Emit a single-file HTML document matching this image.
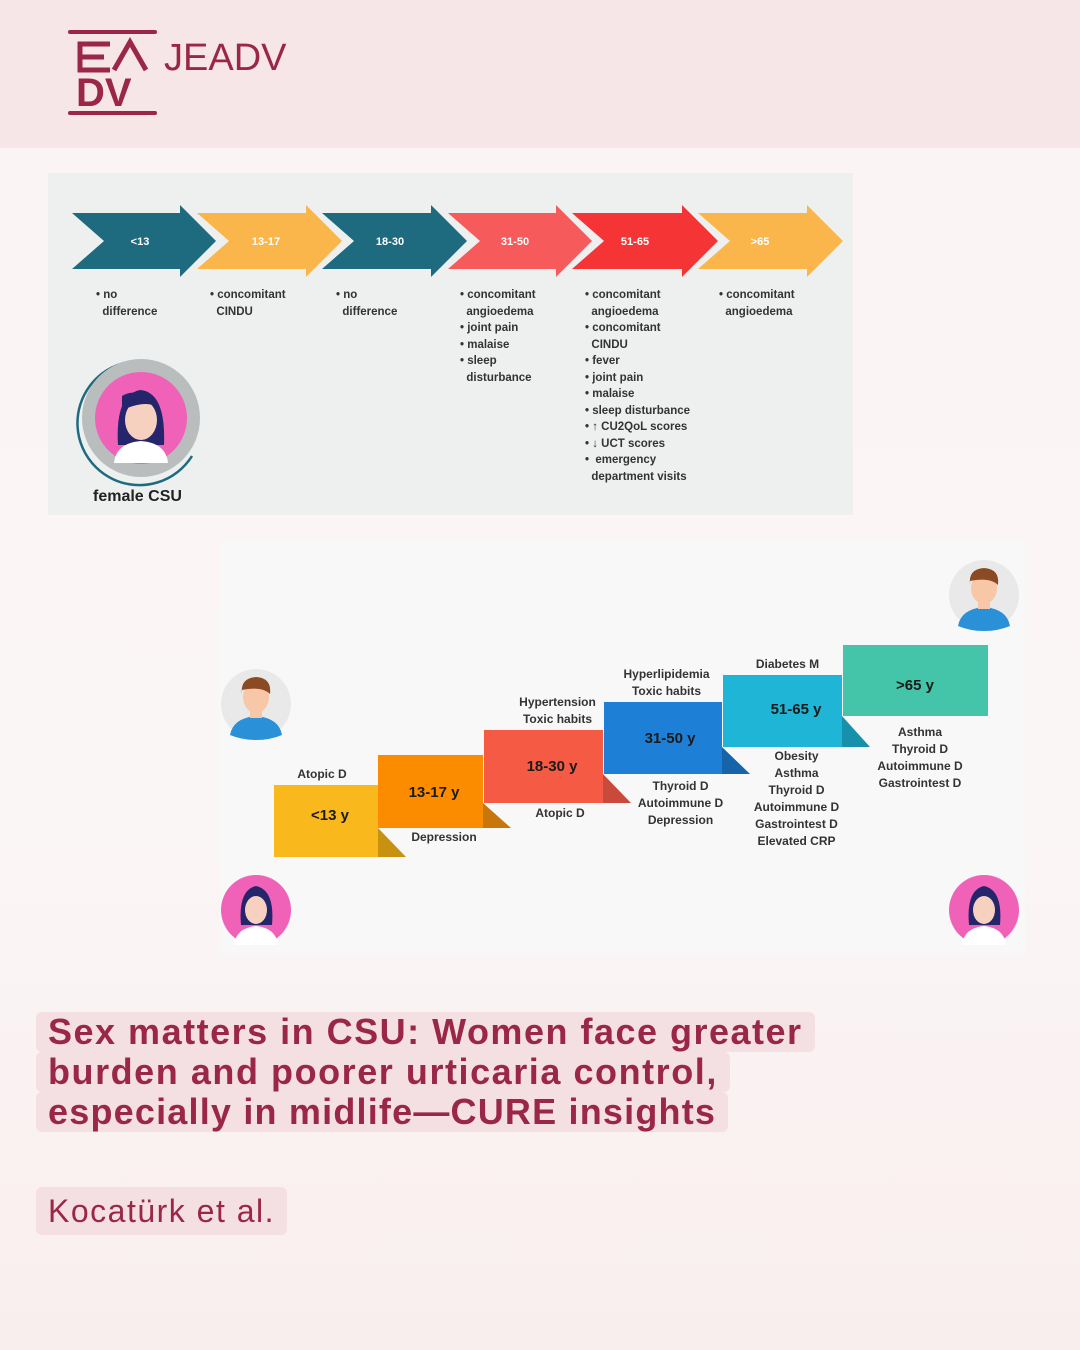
<!DOCTYPE html>
<html><head><meta charset="utf-8"><style>
*{margin:0;padding:0;box-sizing:border-box}
body{width:1080px;height:1350px;position:relative;overflow:hidden;background:linear-gradient(180deg,#fbf3f3 0%,#fbf6f6 60%,#f9eeee 100%);font-family:"Liberation Sans",sans-serif}
.hdr{position:absolute;left:0;top:0;width:1080px;height:148px;background:#f6e6e8}
.t{position:absolute;font-size:11.5px;font-weight:bold;color:#333;line-height:16.5px;white-space:pre}
.s{position:absolute;font-size:12px;font-weight:bold;color:#333;text-align:center;line-height:17px;white-space:pre}
.title{position:absolute;left:36px;top:1012px;font-size:36px;font-weight:bold;color:#9b2748;line-height:40px;letter-spacing:1.5px}
.title span{display:inline-block;background:#f4e0e3;padding:0 12px;border-radius:6px}
</style></head><body>
<div class="hdr"></div>
<svg style="position:absolute;left:0;top:0" width="400" height="148">
<rect x="68" y="30" width="89" height="4" fill="#9b2748" rx="2"/>
<rect x="68" y="111" width="89" height="4" fill="#9b2748" rx="2"/>
<path d="M110 44 H80 V70 H110 M80 57 H104" stroke="#9b2748" stroke-width="5" fill="none"/>
<path d="M114 70 L130 42 L146 70" stroke="#9b2748" stroke-width="5" fill="none"/>
<text x="76" y="106" font-family="Liberation Sans" font-size="40" fill="#9b2748" font-weight="bold">DV</text>
<text x="164" y="70" font-family="Liberation Sans" font-size="38" fill="#9b2748">JEADV</text>
</svg>
<div style="position:absolute;left:48px;top:173px;width:805px;height:342px;background:#eef0f0"></div>
<svg style="position:absolute;left:0;top:0" width="1080" height="1000">
<g font-family="Liberation Sans" font-size="11" fill="#fff" text-anchor="middle" font-weight="bold">
<polygon points="72,213 180,213 180,205 216,241 180,277 180,269 72,269 104,241" fill="#1e6b7f"/><text x="140" y="245">&lt;13</text>
<polygon points="197,213 306,213 306,205 342,241 306,277 306,269 197,269 229,241" fill="#fbb64b"/><text x="266" y="245">13-17</text>
<polygon points="322,213 431,213 431,205 467,241 431,277 431,269 322,269 354,241" fill="#1e6b7f"/><text x="390" y="245">18-30</text>
<polygon points="448,213 556,213 556,205 592,241 556,277 556,269 448,269 480,241" fill="#f65a5a"/><text x="515" y="245">31-50</text>
<polygon points="572,213 682,213 682,205 718,241 682,277 682,269 572,269 604,241" fill="#f53535"/><text x="635" y="245">51-65</text>
<polygon points="698,213 807,213 807,205 843,241 807,277 807,269 698,269 730,241" fill="#fbb64b"/><text x="760" y="245">&gt;65</text>
</g>
<path d="M150 362 A62 62 0 1 0 192 456" stroke="#1e6b7f" stroke-width="2.5" fill="none"/>
<circle cx="141" cy="418" r="59" fill="#b9bdbd"/>
<circle cx="141" cy="418" r="46" fill="#ef62b8"/>
<path d="M118 445 Q115 395 140 390 Q166 392 164 445 Z" fill="#24256b"/>
<ellipse cx="141" cy="420" rx="16" ry="20" fill="#f7d1bf"/>
<path d="M122 396 Q140 385 160 410 Q150 398 122 410 Z" fill="#24256b"/>
<path d="M114 463 Q116 443 141 441 Q166 443 168 463 Z" fill="#fff"/>
</svg>
<div class="t" style="left:96px;top:287px">• no
  difference</div>
<div class="t" style="left:210px;top:287px">• concomitant
  CINDU</div>
<div class="t" style="left:336px;top:287px">• no
  difference</div>
<div class="t" style="left:460px;top:287px">• concomitant
  angioedema
• joint pain
• malaise
• sleep
  disturbance</div>
<div class="t" style="left:585px;top:287px">• concomitant
  angioedema
• concomitant
  CINDU
• fever
• joint pain
• malaise
• sleep disturbance
• ↑ CU2QoL scores
• ↓ UCT scores
•  emergency
  department visits</div>
<div class="t" style="left:719px;top:287px">• concomitant
  angioedema</div>
<div style="position:absolute;left:93px;top:488px;font-size:16px;font-weight:bold;color:#222">female CSU</div>

<div style="position:absolute;left:220px;top:542px;width:805px;height:411px;background:#f8f8f8"></div>
<svg style="position:absolute;left:0;top:0" width="1080" height="1000" font-family="Liberation Sans">
<polygon points="378,828 406,857 378,857" fill="#c6920f"/>
<rect x="274" y="785" width="104" height="72" fill="#f9b81b"/>
<polygon points="483,803 511,828 483,828" fill="#c8750a"/>
<rect x="378" y="755" width="105" height="73" fill="#fb8c00"/>
<polygon points="603,774 631,803 603,803" fill="#c94a3a"/>
<rect x="484" y="730" width="119" height="73" fill="#f55a45"/>
<polygon points="722,747 750,774 722,774" fill="#1665ab"/>
<rect x="604" y="702" width="118" height="72" fill="#1e7fd6"/>
<polygon points="842,716 870,747 842,747" fill="#1690ab"/>
<rect x="723" y="675" width="119" height="72" fill="#1fb5d6"/>
<rect x="843" y="645" width="145" height="71" fill="#44c4a8"/>
<g font-weight="bold" font-size="15" fill="#1a1a1a" text-anchor="middle">
<text x="330" y="820">&lt;13 y</text><text x="434" y="797">13-17 y</text><text x="552" y="771">18-30 y</text>
<text x="670" y="743">31-50 y</text><text x="796" y="714">51-65 y</text><text x="915" y="690">&gt;65 y</text>
</g>
<g>
<circle cx="256" cy="704" r="35" fill="#e9e9e9"/><path d="M230 735 Q233 718 256 716 Q279 718 282 735 Q270 740 256 740 Q242 740 230 735Z" fill="#2a90d8"/><rect x="250" y="706" width="12" height="12" fill="#f7c7a8"/><ellipse cx="256" cy="697" rx="13" ry="16" fill="#f7c7a8"/><path d="M242 694 Q240 678 256 677 Q272 678 270 694 Q262 686 242 690Z" fill="#8a4a22"/>
<circle cx="984" cy="595" r="35" fill="#e9e9e9"/><path d="M958 626 Q961 609 984 607 Q1007 609 1010 626 Q998 631 984 631 Q970 631 958 626Z" fill="#2a90d8"/><rect x="978" y="597" width="12" height="12" fill="#f7c7a8"/><ellipse cx="984" cy="588" rx="13" ry="16" fill="#f7c7a8"/><path d="M970 585 Q968 569 984 568 Q1000 569 998 585 Q990 577 970 581Z" fill="#8a4a22"/>
<circle cx="256" cy="910" r="35" fill="#ef62b8"/><path d="M241 925 Q238 890 256 886 Q275 890 272 925Z" fill="#24256b"/><ellipse cx="256" cy="910" rx="11" ry="14" fill="#f7d1bf"/><path d="M234 945 Q236 928 256 926 Q276 928 278 945Z" fill="#fff"/>
<circle cx="984" cy="910" r="35" fill="#ef62b8"/><path d="M969 925 Q966 890 984 886 Q1003 890 1000 925Z" fill="#24256b"/><ellipse cx="984" cy="910" rx="11" ry="14" fill="#f7d1bf"/><path d="M962 945 Q964 928 984 926 Q1004 928 1006 945Z" fill="#fff"/>
</g>
</svg>
<div class="s" style="left:272px;top:766px;width:100px">Atopic D</div>
<div class="s" style="left:404px;top:829px;width:80px">Depression</div>
<div class="s" style="left:505px;top:694px;width:105px">Hypertension
Toxic habits</div>
<div class="s" style="left:520px;top:805px;width:80px">Atopic D</div>
<div class="s" style="left:614px;top:666px;width:105px">Hyperlipidemia
Toxic habits</div>
<div class="s" style="left:628px;top:778px;width:105px">Thyroid D
Autoimmune D
Depression</div>
<div class="s" style="left:740px;top:656px;width:95px">Diabetes M</div>
<div class="s" style="left:744px;top:748px;width:105px">Obesity
Asthma
Thyroid D
Autoimmune D
Gastrointest D
Elevated CRP</div>
<div class="s" style="left:865px;top:724px;width:110px">Asthma
Thyroid D
Autoimmune D
Gastrointest D</div>

<div class="title"><span>Sex matters in CSU: Women face greater</span><br><span style="letter-spacing:1.55px">burden and poorer urticaria control,</span><br><span style="letter-spacing:1.2px">especially in midlife—CURE insights</span></div>
<div style="position:absolute;left:36px;top:1187px;height:48px;padding:0 12px;background:#f4e0e3;border-radius:6px;font-size:32px;color:#9b2748;line-height:48px;letter-spacing:1.5px">Kocatürk et al.</div>
</body></html>
